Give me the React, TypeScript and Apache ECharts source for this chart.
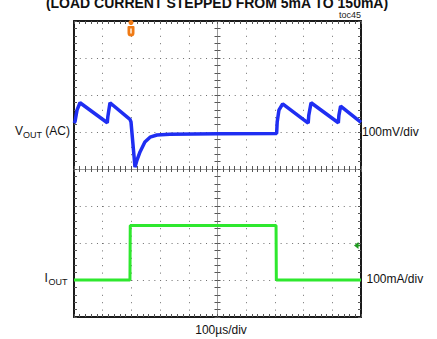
import React, { useEffect, useRef } from "react";
import * as echarts from "echarts";

// Time axis: 10 divisions of 100 µs; vertical: 8 divisions (units = divisions)
const X_MIN = 0;
const X_MAX = 1000;
const X_STEP = 100;
const Y_MIN = -4;
const Y_MAX = 4;
const Y_STEP = 1;

// VOUT (AC), 100mV/div — [time µs, divisions]
const voutTime = [0, 3.5, 10.5, 20.9, 116, 118, 125.4, 195, 198.6, 212.5, 219.5, 230, 247, 265, 289, 334, 500, 706, 708, 714, 727, 816, 818, 826, 921, 923, 929, 1000];
const voutDiv = [1.24, 1.28, 1.59, 1.79, 1.25, 1.42, 1.79, 1.34, 1.27, 0.05, 0.24, 0.46, 0.73, 0.86, 0.92, 0.94, 0.95, 0.96, 1.27, 1.59, 1.76, 1.24, 1.45, 1.79, 1.25, 1.45, 1.7, 1.26];

// IOUT, 100mA/div — [time µs, divisions]
const ioutTime = [0, 195, 196, 704, 705, 1000];
const ioutDiv = [-3.0, -3.0, -1.53, -1.53, -3.0, -3.0];

const TITLE = "(LOAD CURRENT STEPPED FROM 5mA TO 150mA)";
const FONT = "Liberation Sans, Arial, sans-serif";

const GL = 74, GT = 21, GW = 287, GH = 296;

export default function App() {
  const ref = useRef<HTMLDivElement>(null);
  useEffect(() => {
    if (!ref.current) return;
    const chart = echarts.init(ref.current, null, { renderer: "svg" });
    const tickCol = "#555";
    const baseX = (extra: any) => ({
      type: "value",
      min: X_MIN,
      max: X_MAX,
      interval: X_STEP,
      axisLabel: { show: false },
      minorTick: { show: true, splitNumber: 5, length: 3, lineStyle: { color: tickCol, width: 1 } },
      axisTick: { show: true, inside: true, length: 3, lineStyle: { color: tickCol, width: 1 } },
      splitLine: { show: false },
      ...extra,
    });
    const baseY = (extra: any) => ({
      type: "value",
      min: Y_MIN,
      max: Y_MAX,
      interval: Y_STEP,
      axisLabel: { show: false },
      minorTick: { show: true, splitNumber: 5, length: 3, lineStyle: { color: tickCol, width: 1 } },
      axisTick: { show: true, inside: true, length: 3, lineStyle: { color: tickCol, width: 1 } },
      splitLine: { show: false },
      ...extra,
    });
    const border = { show: true, onZero: false, lineStyle: { color: "#1a1a1a", width: 2 } };
    const centerLine = { show: true, onZero: false, lineStyle: { color: "#9a9a9a", width: 1 } };
    const toPairs = (xs: number[], ys: number[]) => xs.map((x, i) => [x, ys[i]]);

    chart.setOption({
      animation: false,
      backgroundColor: "#ffffff",
      grid: { left: GL, top: GT, width: GW, height: GH, containLabel: false },
      xAxis: [
        baseX({
          position: "bottom",
          axisLine: border,
          splitLine: { show: true, lineStyle: { color: "#6e6e6e", width: 1, type: [1, 6.4] } },
        }),
        baseX({ position: "top", axisLine: border }),
        baseX({ position: "bottom", offset: -GH / 2, axisLine: centerLine }),
        baseX({
          position: "bottom",
          offset: -GH / 2,
          axisLine: { show: false, onZero: false },
          axisTick: { show: true, inside: false, length: 3, lineStyle: { color: tickCol, width: 1 } },
        }),
      ],
      yAxis: [
        baseY({
          position: "left",
          axisLine: border,
          splitLine: { show: true, lineStyle: { color: "#6e6e6e", width: 1, type: [1, 4.74] } },
        }),
        baseY({ position: "right", axisLine: border }),
        baseY({ position: "left", offset: -GW / 2, axisLine: centerLine }),
        baseY({
          position: "left",
          offset: -GW / 2,
          axisLine: { show: false, onZero: false },
          axisTick: { show: true, inside: false, length: 3, lineStyle: { color: tickCol, width: 1 } },
        }),
      ],
      series: [
        {
          type: "line",
          xAxisIndex: 0,
          yAxisIndex: 0,
          data: toPairs(ioutTime, ioutDiv),
          showSymbol: false,
          lineStyle: { color: "#2ee82e", width: 3 },
          z: 5,
        },
        {
          type: "line",
          xAxisIndex: 0,
          yAxisIndex: 0,
          data: toPairs(voutTime, voutDiv),
          showSymbol: false,
          lineStyle: { color: "#1f2ef2", width: 3.5 },
          z: 6,
        },
      ],
      graphic: [
        { type: "text", x: 217, y: 10, style: { text: TITLE, font: `bold 14px ${FONT}`, fill: "#111", align: "center", verticalAlign: "bottom" } },
        { type: "text", x: 361, y: 19, style: { text: "toc45", font: `9px ${FONT}`, fill: "#222", align: "right", verticalAlign: "bottom" } },
        // VOUT (AC)
        { type: "text", x: 15, y: 131, style: { text: "V", font: `12px ${FONT}`, fill: "#111", align: "left", verticalAlign: "middle" } },
        { type: "text", x: 23, y: 134.5, style: { text: "OUT", font: `9px ${FONT}`, fill: "#111", align: "left", verticalAlign: "middle" } },
        { type: "text", x: 70, y: 131, style: { text: "(AC)", font: `12px ${FONT}`, fill: "#111", align: "right", verticalAlign: "middle" } },
        // IOUT
        { type: "text", x: 44.5, y: 278, style: { text: "I", font: `12px ${FONT}`, fill: "#111", align: "left", verticalAlign: "middle" } },
        { type: "text", x: 48.5, y: 281.5, style: { text: "OUT", font: `9px ${FONT}`, fill: "#111", align: "left", verticalAlign: "middle" } },
        // right labels
        { type: "text", x: 362, y: 132, style: { text: "100mV/div", font: `12px ${FONT}`, fill: "#111", align: "left", verticalAlign: "middle" } },
        { type: "text", x: 366.5, y: 279, style: { text: "100mA/div", font: `12px ${FONT}`, fill: "#111", align: "left", verticalAlign: "middle" } },
        { type: "text", x: 221, y: 330, style: { text: "100µs/div", font: `12px ${FONT}`, fill: "#111", align: "center", verticalAlign: "middle" } },
        // trigger position marker (orange)
        { type: "circle", shape: { cx: 131, cy: 22.5, r: 2.5 }, style: { fill: "#f07a14" }, z: 10 },
        { type: "rect", shape: { x: 127.5, y: 26, width: 7, height: 10.5, r: [1, 1, 3.5, 3.5] }, style: { fill: "#f07a14" }, z: 10 },
        { type: "rect", shape: { x: 130, y: 28.5, width: 2, height: 5 }, style: { fill: "#fbd3ad" }, z: 11 },
        // trigger level marker (green)
        { type: "polygon", shape: { points: [[354, 245.5], [358.5, 242], [358.5, 249]] }, style: { fill: "#1f9a1f" }, z: 10 },
        { type: "line", shape: { x1: 357, y1: 245.5, x2: 360, y2: 245.5 }, style: { stroke: "#1f9a1f", lineWidth: 1.5 }, z: 10 },
      ],
    });
    return () => chart.dispose();
  }, []);
  return (
    <div
      ref={ref}
      style={{ position: "fixed", left: 0, top: 0, width: 437, height: 339, background: "#fff" }}
    />
  );
}
